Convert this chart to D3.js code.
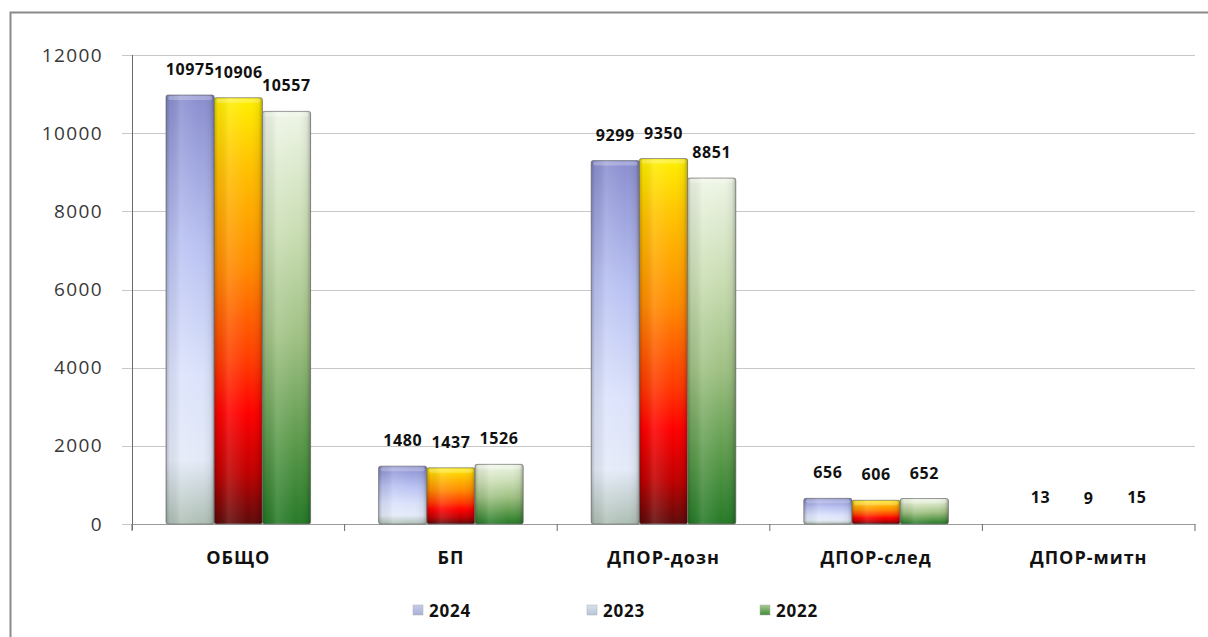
<!DOCTYPE html>
<html><head><meta charset="utf-8">
<script src="https://cdn.jsdelivr.net/npm/d3@7"></script>
<style>
html,body{margin:0;padding:0;background:#fff;}
svg{display:block;}
text{font-family:"Open Sans","DejaVu Sans",sans-serif;}
</style></head>
<body>
<svg id="c" width="1208" height="637"></svg>
<script>
const categories = ["ОБЩО","БП","ДПОР-дозн","ДПОР-след","ДПОР-митн"];
const seriesNames = ["2024","2023","2022"];
const values2024 = [10975,1480,9299,656,13];
const values2023 = [10906,1437,9350,606,9];
const values2022 = [10557,1526,8851,652,15];
const yTicks = [0,2000,4000,6000,8000,10000,12000];

const seriesValues = [values2024, values2023, values2022];
const W = 1208, H = 637;
const svg = d3.select("#c");
const defs = svg.append("defs");

const gradStops = [
  [[0,"#8a8ecf"],[0.35,"#b9c2f2"],[0.65,"#dbe2fb"],[0.85,"#e4eaf8"],[1,"#aebfb4"]],
  [[0,"#fff000"],[0.15,"#ffc400"],[0.4,"#ff8a00"],[0.62,"#ff3a00"],[0.74,"#ff0000"],[0.88,"#c00000"],[1,"#5e0a0a"]],
  [[0,"#eef5e6"],[0.3,"#c9ddb2"],[0.55,"#a0c184"],[0.8,"#5c9a4c"],[1,"#267a28"]]
];
const legendStops = [
  [[0,"#c7cbe8"],[1,"#a9afd9"]],
  [[0,"#d9e3ef"],[1,"#b5c5d8"]],
  [[0,"#a8cc90"],[1,"#3f8a3a"]]
];
function mkGrad(id, st){
  const g = defs.append("linearGradient").attr("id",id).attr("x1",0).attr("y1",0).attr("x2",0).attr("y2",1);
  st.forEach(s=>g.append("stop").attr("offset",s[0]).attr("stop-color",s[1]));
}
gradStops.forEach((st,i)=>mkGrad("g"+i, st));
legendStops.forEach((st,i)=>mkGrad("lg"+i, st));
const hg = defs.append("linearGradient").attr("id","hshade").attr("x1",0).attr("y1",0).attr("x2",1).attr("y2",0);
[[0,"#000",0.22],[0.08,"#000",0.05],[0.3,"#fff",0.12],[0.7,"#fff",0.0],[0.92,"#000",0.06],[1,"#000",0.25]].forEach(s=>
  hg.append("stop").attr("offset",s[0]).attr("stop-color",s[1]).attr("stop-opacity",s[2]));

// frame
svg.append("path").attr("d",`M10.5,${H}V12.5H${W}`).attr("fill","none").attr("stroke","#8a8a8a").attr("stroke-width",2);

const x0 = d3.scaleBand().domain(categories).range([132,1195]).paddingInner(0).paddingOuter(0);
const y = d3.scaleLinear().domain([0,12000]).range([524,55]);
const inner = 0.68;
const x1 = d3.scaleBand().domain(seriesNames).range([0,x0.bandwidth()*inner]).padding(0);
const groupOff = x0.bandwidth()*(1-inner)/2;

// grid lines
svg.append("g").selectAll("line").data(yTicks).join("line")
  .attr("x1",122).attr("x2",1195).attr("y1",d=>Math.round(y(d))+0.5).attr("y2",d=>Math.round(y(d))+0.5)
  .attr("stroke","#c8c8c8").attr("stroke-width",1.2);

// y axis
const yAxis = d3.axisLeft(y).tickValues(yTicks).tickFormat(d3.format("d")).tickSize(0).tickPadding(0);
const ya = svg.append("g").attr("transform","translate(132,0)").call(yAxis);
ya.select(".domain").remove();
ya.selectAll("text").attr("x",-29).attr("font-size",19).attr("fill","#383838")
  .attr("font-family","'Open Sans',sans-serif").attr("letter-spacing",1.4);
svg.append("line").attr("x1",132.5).attr("x2",132.5).attr("y1",55).attr("y2",530).attr("stroke","#6a6a6a").attr("stroke-width",1);

// x axis
const xa = svg.append("g").attr("transform","translate(0,524)").call(d3.axisBottom(x0).tickSize(0).tickPadding(0));
xa.select(".domain").remove();
xa.selectAll("text").attr("y",40).attr("dy",0).attr("font-size",18).attr("font-weight","bold").attr("fill","#111")
  .attr("letter-spacing",1);
svg.append("line").attr("x1",132).attr("x2",1195).attr("y1",524.5).attr("y2",524.5).attr("stroke","#9a9a9a");
svg.append("g").selectAll("line").data(categories.concat(["_end"])).join("line")
  .attr("x1",(d,i)=>132+i*x0.bandwidth()).attr("x2",(d,i)=>132+i*x0.bandwidth())
  .attr("y1",524).attr("y2",531).attr("stroke","#6a6a6a");

// bars
const rows = categories.map((c,ci)=>seriesNames.map((s,si)=>({c,s,si,v:seriesValues[si][ci]})));
const bars = svg.append("g");
rows.flat().forEach(d=>{
  const bx = x0(d.c)+groupOff+x1(d.s);
  const bw = x1.bandwidth();
  const top = y(d.v), h = y(0)-y(d.v);
  if(h<1) return;
  bars.append("rect").attr("x",bx).attr("y",top).attr("width",bw).attr("height",h)
    .attr("fill",`url(#g${d.si})`).attr("stroke","#7c7c7c").attr("stroke-width",0.8).attr("rx",2);
  bars.append("rect").attr("x",bx).attr("y",top).attr("width",bw).attr("height",h)
    .attr("fill","url(#hshade)").attr("rx",2);
  bars.append("rect").attr("x",bx+2).attr("y",top+1).attr("width",bw-4).attr("height",Math.min(4,h-1))
    .attr("fill","#fff").attr("opacity",0.25).attr("rx",2);
});

// value labels
svg.append("g").selectAll("text").data(rows.flat()).join("text")
  .attr("x",d=>x0(d.c)+groupOff+x1(d.s)+x1.bandwidth()/2)
  .attr("y",d=>y(d.v)-20)
  .attr("text-anchor","middle").attr("font-size",16).attr("font-weight","bold").attr("fill","#111")
  .attr("letter-spacing",0.6)
  .text(d=>d.v);

// legend
const legX = [413,587,760];
const lg = svg.append("g");
seriesNames.forEach((s,i)=>{
  lg.append("rect").attr("x",legX[i]).attr("y",605).attr("width",10).attr("height",10)
    .attr("fill",`url(#lg${i})`).attr("stroke","#b0b0b0").attr("stroke-width",0.5);
  lg.append("text").attr("x",legX[i]+16).attr("y",617).attr("font-size",17).attr("font-weight","bold").attr("fill","#111")
    .attr("letter-spacing",0.8).text(s);
});
</script>
</body></html>
